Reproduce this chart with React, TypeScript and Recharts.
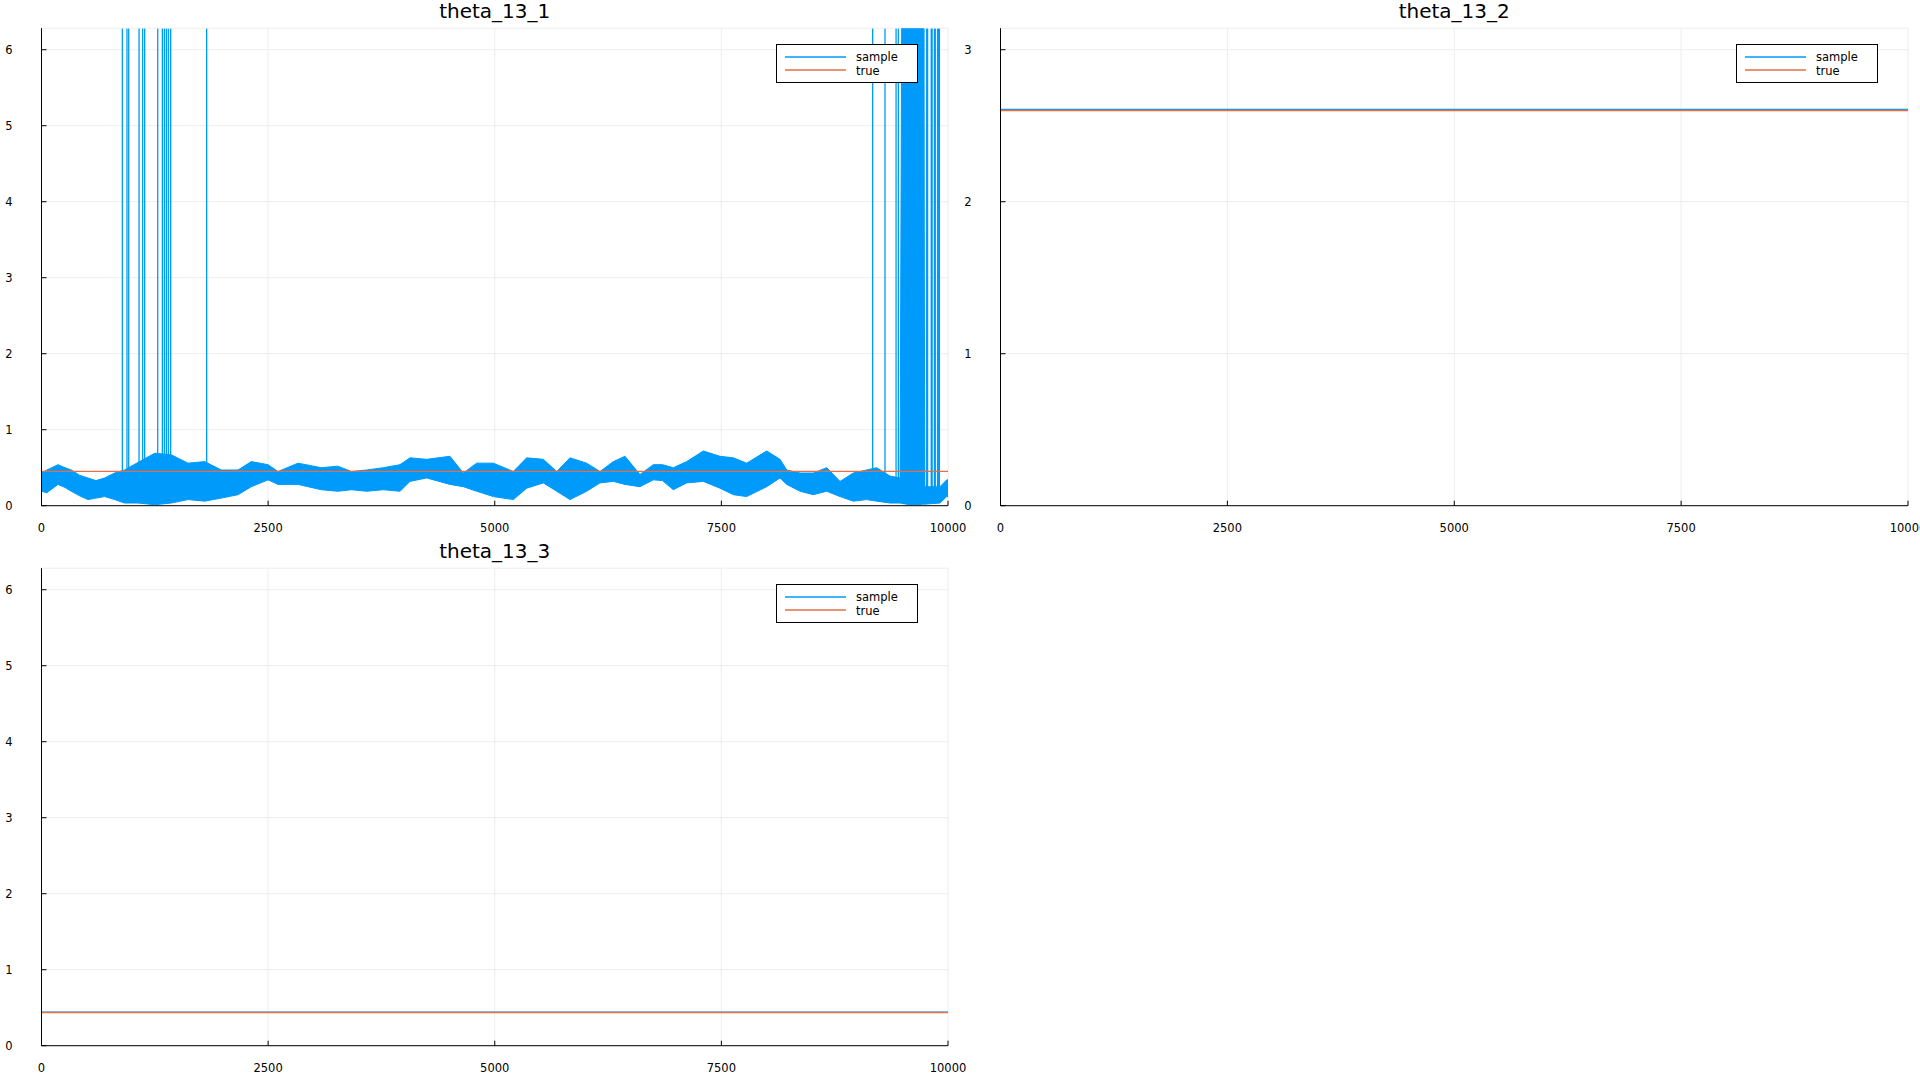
import React from 'react';
import { ComposedChart, Area, Line, XAxis, YAxis, CartesianGrid } from 'recharts';

const SAMPLE_COLOR = '#009AFA';
const TRUE_COLOR = '#E36F47';
const FONT = '"DejaVu Sans", "Liberation Sans", sans-serif';
const TWO_PI = 6.2832;
const PI = 3.1416;

// ---- tick labels / titles ----
const xTicks = [0, 2500, 5000, 7500, 10000];
const yTicksWide = [0, 1, 2, 3, 4, 5, 6];
const yTicksNarrow = [0, 1, 2, 3];
const titles = ['theta_13_1', 'theta_13_2', 'theta_13_3'];
const legendLabels = ['sample', 'true'];

// ---- theta_13_1 : sample trace envelope (iteration, low, high) ----
const bandSteps = [0, 60, 182, 260, 329, 420, 513, 600, 697, 807, 917, 1065, 1249, 1432, 1616, 1800, 1984, 2168, 2315, 2499, 2609, 2830, 3087, 3270, 3420, 3587, 3771, 3955, 4065, 4249, 4506, 4653, 4801, 4985, 5205, 5352, 5536, 5684, 5830, 6014, 6161, 6308, 6437, 6602, 6749, 6850, 6970, 7117, 7301, 7485, 7632, 7779, 8000, 8147, 8221, 8368, 8514, 8662, 8809, 8955, 9103, 9213, 9360, 9471, 9489, 9600, 9728, 9745, 9912, 9986, 10000];
const bandLow = [0.19, 0.17, 0.28, 0.24, 0.19, 0.13, 0.08, 0.10, 0.12, 0.08, 0.035, 0.035, 0.013, 0.035, 0.08, 0.06, 0.10, 0.145, 0.25, 0.34, 0.28, 0.28, 0.21, 0.19, 0.21, 0.19, 0.21, 0.19, 0.32, 0.365, 0.28, 0.25, 0.19, 0.12, 0.08, 0.23, 0.30, 0.19, 0.08, 0.19, 0.30, 0.32, 0.28, 0.25, 0.34, 0.33, 0.21, 0.30, 0.32, 0.23, 0.145, 0.12, 0.25, 0.365, 0.28, 0.19, 0.145, 0.19, 0.12, 0.06, 0.08, 0.06, 0.035, 0.035, 0.03, 0.01, 0.02, 0.02, 0.035, 0.12, 0.12];
const bandHigh = [0.43, 0.47, 0.54, 0.50, 0.47, 0.40, 0.365, 0.33, 0.365, 0.43, 0.47, 0.57, 0.69, 0.67, 0.56, 0.58, 0.47, 0.47, 0.58, 0.54, 0.45, 0.56, 0.50, 0.52, 0.45, 0.47, 0.50, 0.54, 0.63, 0.61, 0.65, 0.43, 0.56, 0.56, 0.45, 0.63, 0.61, 0.45, 0.63, 0.56, 0.45, 0.58, 0.65, 0.41, 0.54, 0.54, 0.50, 0.58, 0.72, 0.65, 0.63, 0.56, 0.72, 0.61, 0.47, 0.43, 0.43, 0.50, 0.32, 0.43, 0.47, 0.50, 0.39, 0.365, 6.283, 6.283, 6.283, 0.25, 0.25, 0.34, 0.34];

// ---- theta_13_1 : wrap-around jumps to 2π ----
const spikeSteps = [892, 943, 962, 1076, 1116, 1138, 1282, 1333, 1355, 1377, 1399, 1425, 1822, 9169, 9305, 9427, 9452, 9735, 9765, 9775, 9815, 9825, 9850, 9860, 9885, 9895, 9905];
const spikeBase = 0.15;
const spikeTop = 6.28;

// ---- constant series ----
const trueValues = [0.452, 2.6, 0.437];
const constSampleValues = [null, 2.607, 0.44];
const spanSteps = [0, 10000];

const bandRows = bandSteps.map((s, i) => ({ step: s, range: [bandLow[i], bandHigh[i]] }));
const spikeRows = spikeSteps.flatMap((s) => [
  { step: s, v: spikeBase },
  { step: s, v: spikeTop },
  { step: s, v: null },
]);
const flatRows = (v: number) => spanSteps.map((s) => ({ step: s, v }));

const X_AXIS_H = 30;

const XTick = (props: any) => {
  const { x, y, payload } = props;
  return (
    <g>
      <line x1={x} x2={x} y1={y} y2={y - 5} stroke="#000" strokeWidth={1} />
      <text x={x} y={y + 26} textAnchor="middle" fontFamily={FONT} fontSize={11.5} fill="#000">
        {payload.value}
      </text>
    </g>
  );
};

const YTick = (props: any) => {
  const { x, y, payload } = props;
  return (
    <g>
      <line x1={x} x2={x + 5} y1={y} y2={y} stroke="#000" strokeWidth={1} />
      <text x={x - 29} y={y + 4.3} textAnchor="end" fontFamily={FONT} fontSize={11.5} fill="#000">
        {payload.value}
      </text>
    </g>
  );
};

type PanelProps = {
  left: number;
  top: number;
  width: number;
  height: number;
  plot: { l: number; t: number; r: number; b: number };
  yMax: number;
  yTicks: number[];
  title: string;
  withTrace: boolean;
  constSample: number | null;
  trueVal: number;
};

function LegendBox({ left, top }: { left: number; top: number }) {
  return (
    <svg style={{ position: 'absolute', left, top }} width={143} height={40}>
      <rect x={0.5} y={0.5} width={141} height={38} fill="#fff" stroke="#000" strokeWidth={1} />
      <line x1={9} x2={70} y1={13} y2={13} stroke={SAMPLE_COLOR} strokeWidth={1.3} />
      <text x={80} y={17.2} fontFamily={FONT} fontSize={11.5} fill="#000">{legendLabels[0]}</text>
      <line x1={9} x2={70} y1={26} y2={26} stroke={TRUE_COLOR} strokeWidth={1.3} />
      <text x={80} y={30.7} fontFamily={FONT} fontSize={11.5} fill="#000">{legendLabels[1]}</text>
    </svg>
  );
}

function Panel(p: PanelProps) {
  const margin = {
    top: p.plot.t - p.top,
    right: p.left + p.width - p.plot.r,
    bottom: p.top + p.height - p.plot.b - X_AXIS_H,
    left: 0,
  };
  const yAxisW = p.plot.l - p.left;
  return (
    <>
      <div style={{ position: 'absolute', left: p.left, top: p.top, width: p.width, height: p.height }}>
        <ComposedChart width={p.width} height={p.height} margin={margin}>
          <CartesianGrid stroke="#EDEDED" strokeWidth={1} />
          <XAxis
            dataKey="step"
            type="number"
            domain={[0, 10000]}
            ticks={xTicks}
            interval={0}
            allowDataOverflow
            height={X_AXIS_H}
            tickSize={0}
            tickMargin={0}
            tickLine={false}
            tick={<XTick />}
            axisLine={{ stroke: '#000', strokeWidth: 1 }}
          />
          <YAxis
            type="number"
            domain={[0, p.yMax]}
            ticks={p.yTicks}
            interval={0}
            allowDataOverflow
            width={yAxisW}
            tickSize={0}
            tickMargin={0}
            tickLine={false}
            tick={<YTick />}
            axisLine={{ stroke: '#000', strokeWidth: 1 }}
          />
          {p.withTrace && (
            <Area
              data={bandRows}
              dataKey="range"
              type="linear"
              stroke={SAMPLE_COLOR}
              strokeWidth={1}
              fill={SAMPLE_COLOR}
              fillOpacity={1}
              isAnimationActive={false}
              dot={false}
              activeDot={false}
            />
          )}
          {p.withTrace && (
            <Line
              data={spikeRows}
              dataKey="v"
              type="linear"
              stroke={SAMPLE_COLOR}
              strokeWidth={1.3}
              dot={false}
              activeDot={false}
              connectNulls={false}
              isAnimationActive={false}
            />
          )}
          {p.constSample !== null && (
            <Line
              data={flatRows(p.constSample)}
              dataKey="v"
              type="linear"
              stroke={SAMPLE_COLOR}
              strokeWidth={1.3}
              dot={false}
              activeDot={false}
              isAnimationActive={false}
            />
          )}
          <Line
            data={flatRows(p.trueVal)}
            dataKey="v"
            type="linear"
            stroke={TRUE_COLOR}
            strokeWidth={1.4}
            dot={false}
            activeDot={false}
            isAnimationActive={false}
          />
        </ComposedChart>
      </div>
      <div
        style={{
          position: 'absolute',
          left: p.plot.l,
          width: p.plot.r - p.plot.l,
          top: p.plot.t - 27.2,
          lineHeight: '20px',
          fontSize: 20,
          fontFamily: FONT,
          textAlign: 'center',
          color: '#000',
          whiteSpace: 'nowrap',
        }}
      >
        {p.title}
      </div>
      <LegendBox left={p.plot.r - 172.3} top={p.plot.t + 16.1} />
    </>
  );
}

export default function App() {
  return (
    <div style={{ position: 'absolute', left: 0, top: 0, width: 1920, height: 1080, background: '#fff', overflow: 'hidden' }}>
      <Panel
        left={0}
        top={0}
        width={980}
        height={545}
        plot={{ l: 41.5, t: 28.2, r: 948, b: 505.7 }}
        yMax={TWO_PI}
        yTicks={yTicksWide}
        title={titles[0]}
        withTrace
        constSample={constSampleValues[0]}
        trueVal={trueValues[0]}
      />
      <Panel
        left={950}
        top={0}
        width={970}
        height={545}
        plot={{ l: 1000.5, t: 28.2, r: 1908, b: 505.7 }}
        yMax={PI}
        yTicks={yTicksNarrow}
        title={titles[1]}
        withTrace={false}
        constSample={constSampleValues[1]}
        trueVal={trueValues[1]}
      />
      <Panel
        left={0}
        top={540}
        width={980}
        height={540}
        plot={{ l: 41.5, t: 568.2, r: 948, b: 1045.7 }}
        yMax={TWO_PI}
        yTicks={yTicksWide}
        title={titles[2]}
        withTrace={false}
        constSample={constSampleValues[2]}
        trueVal={trueValues[2]}
      />
    </div>
  );
}
